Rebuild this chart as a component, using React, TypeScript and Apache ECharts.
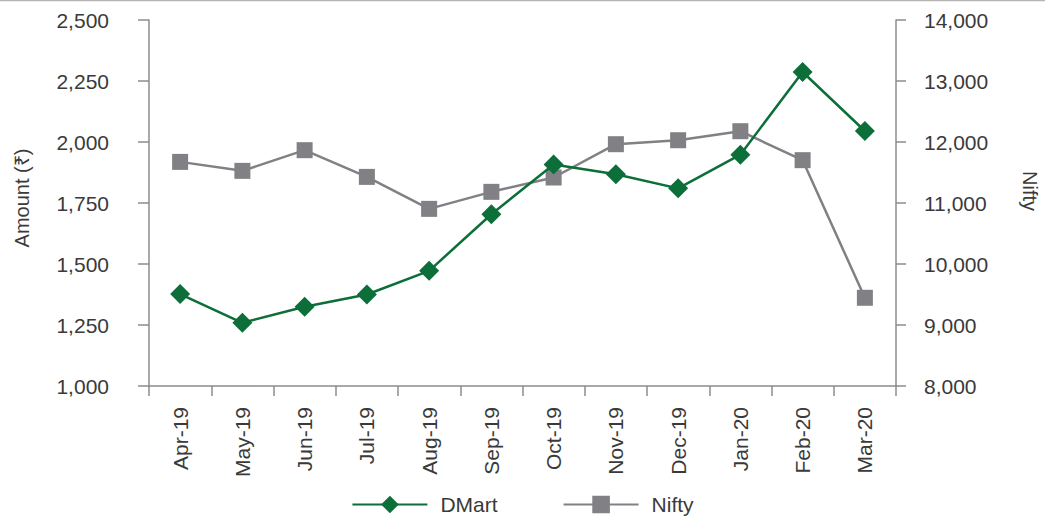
import React, { useEffect, useRef } from "react";
import * as echarts from "echarts";

const categories = ["Apr-19", "May-19", "Jun-19", "Jul-19", "Aug-19", "Sep-19", "Oct-19", "Nov-19", "Dec-19", "Jan-20", "Feb-20", "Mar-20"];
const dmartValues = [1377, 1259, 1325, 1375, 1472, 1704, 1908, 1868, 1810, 1948, 2287, 2045];
const niftyValues = [11674, 11527, 11866, 11428, 10904, 11183, 11418, 11964, 12029, 12177, 11702, 9446];
const leftAxisTitle = "Amount (₹)";
const rightAxisTitle = "Nifty";

const GREEN = "#0c6e38";
const GRAY = "#818185";
const AXIS = "#8c8c8c";
const TEXT = "#3a3a3a";
const FONT = "'Liberation Sans', Arial, sans-serif";

export default function App() {
  const ref = useRef<HTMLDivElement>(null);
  useEffect(() => {
    if (!ref.current) return;
    const chart = echarts.init(ref.current, null, { renderer: "svg" });
    const fmt = (v: number) => v.toLocaleString("en-US");
    chart.setOption({
      animation: false,
      textStyle: { fontFamily: FONT },
      grid: { left: 149, right: 149, top: 20, bottom: 130 },
      legend: {
        left: "center",
        top: 489,
        itemWidth: 75,
        itemHeight: 22,
        itemGap: 65,
        textStyle: { fontSize: 21, color: TEXT, fontFamily: FONT, padding: [0, 0, 0, 8] },
        data: ["DMart", "Nifty"],
      },
      graphic: [
        {
          type: "line",
          shape: { x1: 0, y1: 0.5, x2: 1045, y2: 0.5 },
          style: { stroke: "#b5b5b5", lineWidth: 1.5 },
        },
        {
          type: "text",
          x: 22,
          y: 198,
          rotation: Math.PI / 2,
          style: { text: leftAxisTitle, fontSize: 20, fill: TEXT, fontFamily: FONT, align: "center", verticalAlign: "middle" },
        },
        {
          type: "text",
          x: 1030,
          y: 191,
          rotation: -Math.PI / 2,
          style: { text: rightAxisTitle, fontSize: 20, fill: TEXT, fontFamily: FONT, align: "center", verticalAlign: "middle" },
        },
      ],
      xAxis: {
        type: "category",
        data: categories,
        boundaryGap: true,
        axisLine: { lineStyle: { color: AXIS, width: 1.5 } },
        axisTick: { show: true, length: 10, alignWithLabel: false, lineStyle: { color: AXIS, width: 1.5 } },
        axisLabel: { rotate: 90, margin: 21, fontSize: 21, color: TEXT, fontFamily: FONT, interval: 0 },
        splitLine: { show: false },
      },
      yAxis: [
        {
          type: "value",
          min: 1000,
          max: 2500,
          interval: 250,
          position: "left",
          axisLine: { show: true, lineStyle: { color: AXIS, width: 1.5 } },
          axisTick: { show: true, length: 11, lineStyle: { color: AXIS, width: 1.5 } },
          axisLabel: { margin: 40, fontSize: 21, color: TEXT, fontFamily: FONT, formatter: fmt },
          splitLine: { show: false },
        },
        {
          type: "value",
          min: 8000,
          max: 14000,
          interval: 1000,
          position: "right",
          axisLine: { show: true, lineStyle: { color: AXIS, width: 1.5 } },
          axisTick: { show: true, length: 10, lineStyle: { color: AXIS, width: 1.5 } },
          axisLabel: { margin: 28, fontSize: 21, color: TEXT, fontFamily: FONT, formatter: fmt },
          splitLine: { show: false },
        },
      ],
      series: [
        {
          name: "Nifty",
          type: "line",
          yAxisIndex: 1,
          data: niftyValues,
          symbol: "rect",
          symbolSize: 16,
          lineStyle: { color: GRAY, width: 2.5 },
          itemStyle: { color: GRAY },
          z: 2,
        },
        {
          name: "DMart",
          type: "line",
          yAxisIndex: 0,
          data: dmartValues,
          symbol: "diamond",
          symbolSize: 20,
          lineStyle: { color: GREEN, width: 2.5 },
          itemStyle: { color: GREEN },
          z: 3,
        },
      ],
    });
    return () => chart.dispose();
  }, []);
  return (
    <div
      ref={ref}
      style={{ position: "absolute", left: 0, top: 0, width: 1045, height: 516 }}
    />
  );
}
